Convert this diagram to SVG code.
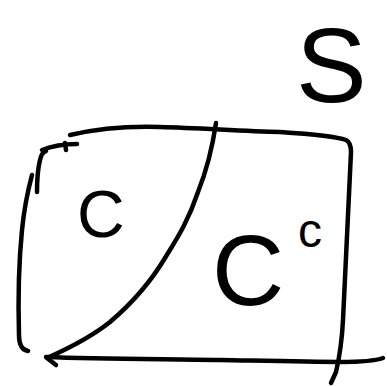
<svg xmlns="http://www.w3.org/2000/svg" width="387" height="386" viewBox="0 0 387 386">
<style>
.s{fill:none;stroke:#000;stroke-width:4.5;stroke-linecap:round;stroke-linejoin:round}
.t{font-family:"Liberation Sans",Arial,sans-serif;fill:#000}
</style>
<rect width="387" height="386" fill="#fff"/>
<g id="set-S">
<path class="s" d="M70,135 C100,128 130,126 160,127 C200,128 240,131 280,132 C310,134 335,136 346,140 C350,142 351,146 351,152 C349,200 346,260 343,320 C342,340 340,355 336,372 L331,383"/>
<path class="s" d="M46,357 C100,359 160,359 220,360 C270,361 310,362 340,362 C360,362 375,361 383,358"/>
<path class="s" d="M28,351 C22,350 19,345 19,335 C18,300 19,260 22,230 C24,210 28,190 32,175"/>
<path class="s" d="M37,192 C37,180 38,168 40,160 C41,155 43,152 46,151"/>
<path class="s" d="M42,150 C52,146 63,144 77,144"/>
<path class="s" d="M65,143 L66,150"/>
</g>
<g id="connectors">
<path class="s" d="M216,123 C212,150 206,172 198,192 C188,222 176,240 165,258 C150,283 130,305 110,322 C90,338 65,350 47,358 L56,365"/>
</g>
<g id="label-S"><text class="t" x="296" y="102" font-size="106">S</text></g>
<g id="region-C"><text class="t" x="77" y="237" font-size="66">C</text></g>
<g id="region-Cc"><text class="t" x="212" y="305" font-size="100">C</text><text class="t" x="298" y="247" font-size="48">c</text></g>
</svg>
